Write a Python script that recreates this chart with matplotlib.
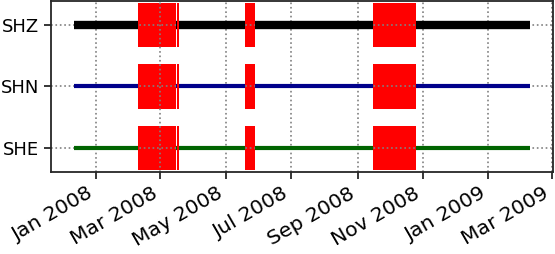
import datetime as dt

import matplotlib
matplotlib.use("Agg")
import matplotlib.pyplot as plt
import matplotlib.dates as mdates

# channels, top to bottom
channels = ["SHZ", "SHN", "SHE"]
colors = ["black", "darkblue", "darkgreen"]
widths = [6.0, 3.0, 3.0]

# recorded data span (same for all channels)
data_start = dt.datetime(2007, 12, 11)
data_end = dt.datetime(2009, 2, 9)

# gaps (start, end), shared by all channels
gaps = [
    (dt.datetime(2008, 2, 9), dt.datetime(2008, 3, 15, 6)),
    (dt.datetime(2008, 3, 16, 6), dt.datetime(2008, 3, 18)),
    (dt.datetime(2008, 5, 19), dt.datetime(2008, 5, 28, 12)),
    (dt.datetime(2008, 9, 15), dt.datetime(2008, 10, 25)),
]

x_min = dt.datetime(2007, 11, 20)
x_max = dt.datetime(2009, 3, 2)


def main():
    fig = plt.figure(figsize=(5.55, 2.54), dpi=100)
    ax = fig.add_axes([0.092, 0.323, 0.904, 0.673])

    ypos = [2, 1, 0]
    for ch, c, w, y in zip(channels, colors, widths, ypos):
        # data segments between gaps
        edges = [data_start]
        for g0, g1 in gaps:
            edges.append(g0)
            edges.append(g1)
        edges.append(data_end)
        for k in range(0, len(edges), 2):
            ax.plot([edges[k], edges[k + 1]], [y, y], color=c, lw=w,
                    solid_capstyle="butt", zorder=2)
        # gaps
        for g0, g1 in gaps:
            ax.bar(mdates.date2num(g0), 0.72, width=mdates.date2num(g1) - mdates.date2num(g0),
                   bottom=y - 0.36, align="edge", color="red", lw=0, zorder=1)

    ax.set_yticks(ypos)
    ax.set_yticklabels(channels)
    ax.set_ylim(-0.39, 2.39)
    ax.set_xlim(x_min, x_max)

    ax.xaxis.set_major_locator(mdates.MonthLocator(bymonth=[1, 3, 5, 7, 9, 11]))
    ax.xaxis.set_major_formatter(mdates.DateFormatter("%b %Y"))

    ax.grid(True, linestyle=":", color="gray", lw=1.2)
    ax.tick_params(length=5, width=1.3, color="#262626")
    ax.tick_params(axis="y", labelsize=13)
    ax.tick_params(axis="x", labelsize=14.7)
    for s in ax.spines.values():
        s.set_linewidth(1.3)
        s.set_color("#262626")

    for lab in ax.get_xticklabels():
        lab.set_rotation(30)
        lab.set_ha("right")

    fig.savefig("out.png", dpi=100)


if __name__ == "__main__":
    main()
